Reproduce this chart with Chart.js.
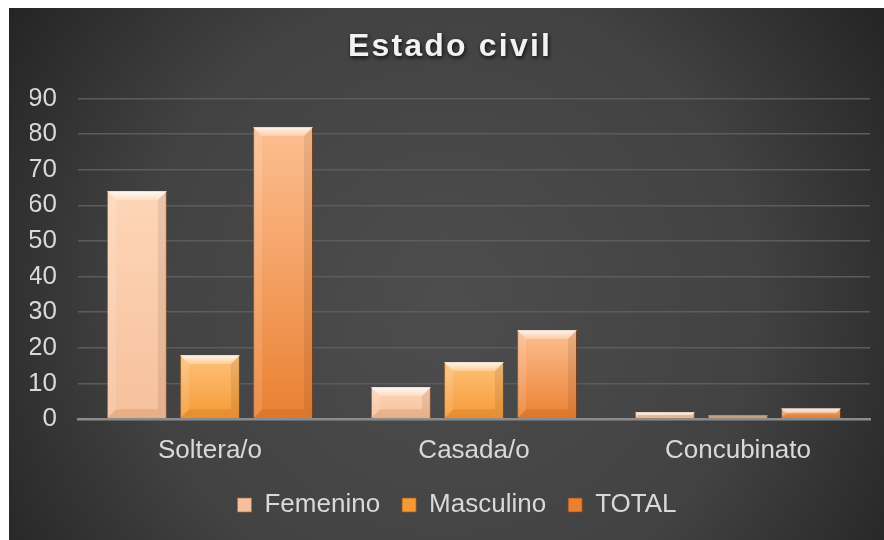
<!DOCTYPE html>
<html>
<head>
<meta charset="utf-8">
<script src="https://cdn.jsdelivr.net/npm/chart.js@4.4.1/dist/chart.umd.min.js"></script>
<style>
  html, body { margin: 0; padding: 0; background: #fff; }
  #wrap { position: absolute; left: 9px; top: 8px; width: 875px; height: 532px; }
</style>
</head>
<body>
<div id="wrap"><canvas id="chart" width="875" height="532"></canvas></div>
<script>
// data
const chartTitle = 'Estado civil';
const categories = ['Soltera/o', 'Casada/o', 'Concubinato'];
const seriesNames = ['Femenino', 'Masculino', 'TOTAL'];
const femenino = [64, 9, 2];
const masculino = [18, 16, 1];
const total = [82, 25, 3];
const yTicks = [0, 10, 20, 30, 40, 50, 60, 70, 80, 90];

const FONT = '"Liberation Sans", Arial, sans-serif';
const TEXT = '#d9d9d9';

// top / bottom colour of each bar gradient
const palette = [
  { top: '#fed6b8', bottom: '#f6c09c', border: 'rgba(170,110,70,0.7)' },
  { top: '#ffc27a', bottom: '#f59a35', border: 'rgba(160,90,20,0.7)' },
  { top: '#fdbf92', bottom: '#ea8132', border: 'rgba(150,70,20,0.7)' }
];

function barFill(idx) {
  return (context) => {
    const chart = context.chart;
    const c = palette[idx];
    if (!chart.chartArea || !context.parsed) return c.bottom;
    const y = chart.scales.y;
    const top = y.getPixelForValue(context.parsed.y);
    const base = y.getPixelForValue(0);
    if (!(base - top > 0.5)) return c.top;
    const g = chart.ctx.createLinearGradient(0, top, 0, base);
    g.addColorStop(0, c.top);
    g.addColorStop(1, c.bottom);
    return g;
  };
}

// dark radial backdrop
const backdrop = {
  id: 'backdrop',
  beforeDraw(chart) {
    const { ctx, width, height } = chart;
    const g = ctx.createRadialGradient(width * 0.5, height * 0.55, 0, width * 0.5, height * 0.55, Math.hypot(width, height) * 0.55);
    g.addColorStop(0, '#4d4d4d');
    g.addColorStop(0.55, '#424242');
    g.addColorStop(1, '#1f1f1f');
    ctx.save();
    ctx.fillStyle = g;
    ctx.fillRect(0, 0, width, height);
    ctx.restore();
  }
};

// spaced, shadowed title
const titleStyle = {
  id: 'titleStyle',
  beforeDraw(chart) {
    const tb = chart.titleBlock;
    if (!tb || tb._patched) return;
    const orig = tb.draw;
    tb.draw = function () {
      const ctx = this.ctx;
      ctx.save();
      ctx.letterSpacing = '2.2px';
      ctx.shadowColor = 'rgba(0,0,0,0.8)';
      ctx.shadowBlur = 4;
      ctx.shadowOffsetX = 1;
      ctx.shadowOffsetY = 2;
      orig.call(this);
      ctx.restore();
    };
    tb._patched = true;
  }
};

// nudge the legend a little to the right, like the original
const legendShift = {
  id: 'legendShift',
  afterLayout(chart) {
    if (!chart.legend) return;
    chart.legend.left += 7;
    chart.legend.right += 7;
  }
};

// bevel highlights on each bar
const bevel = {
  id: 'bevel',
  afterDatasetsDraw(chart) {
    const ctx = chart.ctx;
    chart.data.datasets.forEach((ds, di) => {
      const meta = chart.getDatasetMeta(di);
      meta.data.forEach((bar) => {
        const { x, y, base, width } = bar.getProps(['x', 'y', 'base', 'width'], true);
        const x0 = x - width / 2, x1 = x + width / 2;
        const h = base - y;
        if (h <= 0) return;
        const b = Math.min(9, h / 2, width / 2);
        ctx.save();
        // top
        const gt = ctx.createLinearGradient(0, y, 0, y + b);
        gt.addColorStop(0, 'rgba(255,255,255,0.85)');
        gt.addColorStop(1, 'rgba(255,255,255,0.25)');
        ctx.fillStyle = gt;
        ctx.beginPath();
        ctx.moveTo(x0, y); ctx.lineTo(x1, y); ctx.lineTo(x1 - b, y + b); ctx.lineTo(x0 + b, y + b);
        ctx.closePath(); ctx.fill();
        // left
        ctx.fillStyle = 'rgba(255,255,255,0.12)';
        ctx.beginPath();
        ctx.moveTo(x0, y); ctx.lineTo(x0 + b, y + b); ctx.lineTo(x0 + b, base - b); ctx.lineTo(x0, base);
        ctx.closePath(); ctx.fill();
        // right
        ctx.fillStyle = 'rgba(0,0,0,0.08)';
        ctx.beginPath();
        ctx.moveTo(x1, y); ctx.lineTo(x1 - b, y + b); ctx.lineTo(x1 - b, base - b); ctx.lineTo(x1, base);
        ctx.closePath(); ctx.fill();
        // bottom
        ctx.fillStyle = 'rgba(120,50,0,0.12)';
        ctx.beginPath();
        ctx.moveTo(x0, base); ctx.lineTo(x0 + b, base - b); ctx.lineTo(x1 - b, base - b); ctx.lineTo(x1, base);
        ctx.closePath(); ctx.fill();
        ctx.restore();
      });
    });
  }
};

const seriesValues = [femenino, masculino, total];

const chart = new Chart(document.getElementById('chart'), {
  type: 'bar',
  data: {
    labels: categories,
    datasets: seriesNames.map((name, i) => ({
      label: name,
      data: seriesValues[i],
      backgroundColor: barFill(i),
      borderColor: palette[i].border,
      borderWidth: 1,
      categoryPercentage: 0.83,
      barPercentage: 0.82
    }))
  },
  options: {
    responsive: false,
    animation: false,
    layout: { padding: { left: 21, right: 14, top: 0, bottom: 12 } },
    plugins: {
      title: {
        display: true,
        text: chartTitle,
        color: '#f2f2f2',
        font: { family: FONT, size: 32, weight: 'bold' },
        padding: { top: 20, bottom: 32 }
      },
      legend: {
        position: 'bottom',
        labels: {
          color: TEXT,
          font: { family: FONT, size: 26 },
          boxWidth: 14,
          boxHeight: 14,
          padding: 22
        }
      },
      tooltip: { enabled: false }
    },
    scales: {
      x: {
        grid: { display: false, drawTicks: false },
        border: { display: true, color: '#8c8c8c', width: 2.5, z: 1 },
        ticks: { color: TEXT, font: { family: FONT, size: 26 }, padding: 16 },
        afterFit: (s) => { s.height = 51; }
      },
      y: {
        min: 0,
        max: 90,
        afterBuildTicks: (s) => { s.ticks = yTicks.map((v) => ({ value: v })); },
        afterFit: (s) => { s.width = 48; },
        grid: { color: '#5c5c5c', lineWidth: 1.5, drawTicks: false },
        border: { display: false },
        ticks: { color: TEXT, font: { family: FONT, size: 26 }, padding: 21, autoSkip: false }
      }
    }
  },
  plugins: [backdrop, titleStyle, legendShift, bevel]
});
</script>
</body>
</html>
